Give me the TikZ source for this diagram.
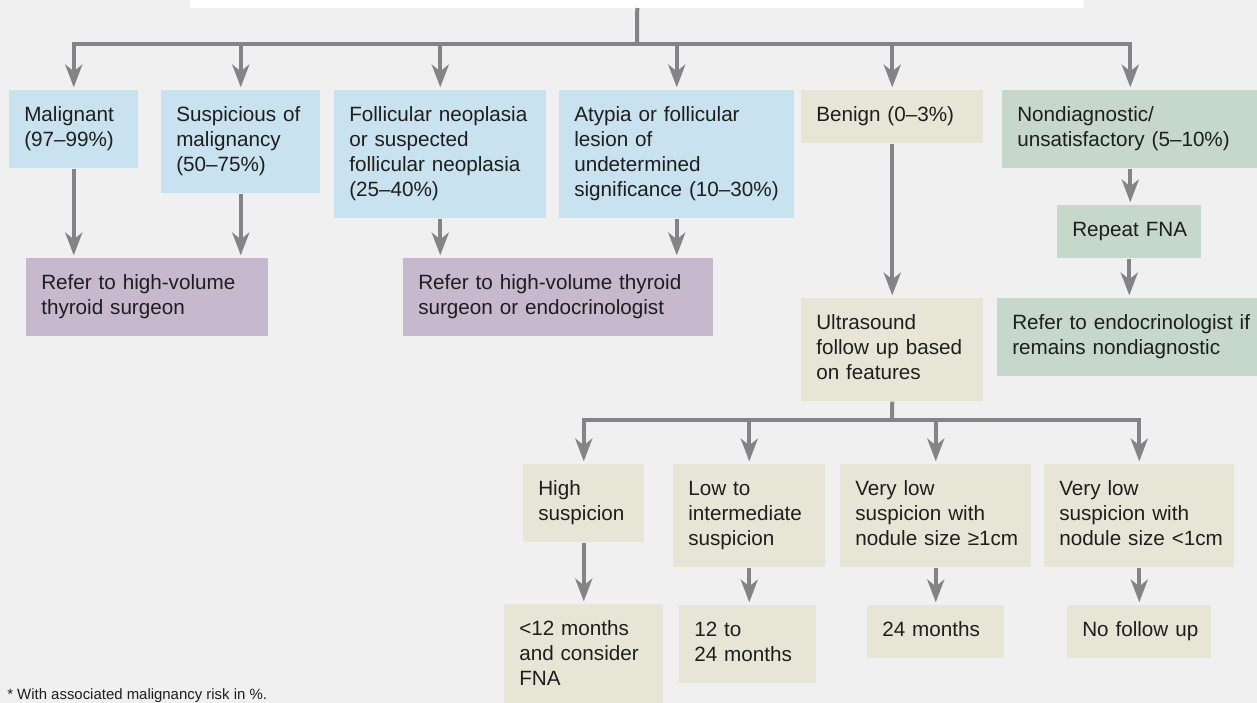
\documentclass[tikz,border=0pt]{standalone}
\usepackage{fontspec}
\setmainfont{Liberation Sans}
\usetikzlibrary{arrows.meta}
\definecolor{bgc}{HTML}{F0F0F0}
\definecolor{bluec}{HTML}{C9E2EF}
\definecolor{beigec}{HTML}{E7E6D6}
\definecolor{greenc}{HTML}{C6D8CC}
\definecolor{purplec}{HTML}{C6B8CD}
\definecolor{arrowc}{HTML}{848488}
\definecolor{ink}{HTML}{1E1E1E}
\begin{document}
\begin{tikzpicture}[x=0.75pt,y=-0.75pt,
  box/.style={anchor=north west, inner xsep=11.25pt, inner ysep=10.5pt, align=left,
    font=\fontsize{15.5pt}{18.75pt}\selectfont, text=ink,
    execute at begin node=\strut, execute at end node=\strut},
  ln/.style={draw=arrowc, line width=3pt},
  arr/.style={ln, shorten >=2pt, -{Stealth[length=17pt,width=12.75pt,inset=5pt]}}]
\fill[bgc] (0,0) rectangle (1257,703);
\useasboundingbox (0,0) rectangle (1257,703);
% top box (cut off)
\node[anchor=south west, fill=white, inner sep=0pt, minimum width=670.5pt, minimum height=30pt] (top) at (190,8) {};
% first level
\node[box,fill=bluec,text width=74.25pt] (mal) at (9,90) {Malignant\\(97–99\%)};
\node[box,fill=bluec,text width=96.75pt] (sus) at (161,90) {Suspicious of\\malignancy\\(50–75\%)};
\node[box,fill=bluec,text width=136.5pt] (fol) at (334,90) {Follicular neoplasia\\or suspected\\follicular neoplasia\\(25–40\%)};
\node[box,fill=bluec,text width=153.75pt] (aty) at (559,90) {Atypia or follicular\\lesion of\\undetermined\\\mbox{significance (10–30\%)}};
\node[box,fill=beigec,text width=114pt] (ben) at (801,90) {Benign (0–3\%)};
\node[box,fill=greenc,text width=169.5pt] (non) at (1002,90) {Nondiagnostic/\\unsatisfactory (5–10\%)};
% second level
\node[box,fill=purplec,text width=159pt] (rfa) at (26,258) {Refer to high-volume\\thyroid surgeon};
\node[box,fill=purplec,text width=210pt] (rfb) at (403,258) {Refer to high-volume thyroid\\surgeon or endocrinologist};
\node[box,fill=greenc,text width=85.5pt] (rep) at (1057,205) {\mbox{Repeat FNA}};
\node[box,fill=greenc,text width=177pt] (endo) at (997,298) {\mbox{Refer to endocrinologist if}\\remains nondiagnostic};
\node[box,fill=beigec,text width=114pt] (us) at (801,298) {Ultrasound\\follow up based\\on features};
% third level
\node[box,fill=beigec,text width=68.25pt] (high) at (523,464) {High\\suspicion};
\node[box,fill=beigec,text width=91.5pt] (low) at (673,464) {Low to\\intermediate\\suspicion};
\node[box,fill=beigec,text width=120.75pt] (vla) at (840,464) {Very low\\suspicion with\\\mbox{nodule size ≥1cm}};
\node[box,fill=beigec,text width=120pt] (vlb) at (1044,464) {Very low\\suspicion with\\\mbox{nodule size <1cm}};
% fourth level
\node[box,fill=beigec,text width=96.75pt] (mtw) at (504,604) {<12 months\\and consider\\FNA};
\node[box,fill=beigec,text width=80.25pt] (mtt) at (679,605) {12 to\\24 months};
\node[box,fill=beigec,text width=80.25pt] (mtf) at (867,605) {24 months};
\node[box,fill=beigec,text width=85.5pt] (nof) at (1067,605) {\mbox{No follow up}};
% footnote
\node[anchor=base west, inner sep=0pt, text=ink, font=\fontsize{11.2pt}{13pt}\selectfont] (note) at (7,699) {* With associated malignancy risk in \%.};
% connectors
\coordinate (ja) at (637,44);
\coordinate (jb) at (892,420);
\draw[ln] (top.south) -- (ja);
\foreach \n in {mal,sus,fol,aty,ben,non} \draw[arr] (ja) -| (\n);
\draw[arr] (mal.south) -- (mal.south |- rfa.north);
\draw[arr] (sus.south) -- (sus.south |- rfa.north);
\draw[arr] (fol.south) -- (fol.south |- rfb.north);
\draw[arr] (aty.south) -- (aty.south |- rfb.north);
\draw[arr] (ben.south) -- (ben.south |- us.north);
\draw[arr] (non.south) -- (non.south |- rep.north);
\draw[arr] (rep.south) -- (rep.south |- endo.north);
\draw[ln] (us.south) -- (jb);
\foreach \n in {high,low,vla,vlb} \draw[arr] (jb) -| (\n);
\draw[arr] (high.south) -- (high.south |- mtw.north);
\draw[arr] (low.south) -- (low.south |- mtt.north);
\draw[arr] (vla.south) -- (vla.south |- mtf.north);
\draw[arr] (vlb.south) -- (vlb.south |- nof.north);
\end{tikzpicture}
\end{document}
